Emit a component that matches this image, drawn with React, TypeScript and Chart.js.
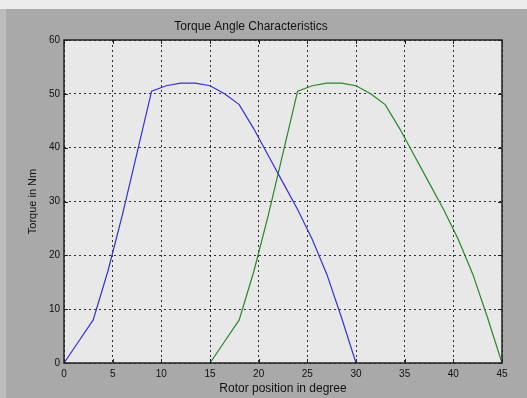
import React, { useEffect, useRef } from "react";
import { Chart, registerables } from "chart.js";

Chart.register(...registerables);

const rotorAngle: number[] = [0, 1.5, 3, 4.5, 6, 7.5, 9, 10.5, 12, 13.5, 15, 16.5, 18, 19.5, 21, 22.5, 24, 25.5, 27, 28.5, 30];
const phaseA: number[] = [0, 4, 8, 17, 27.5, 39, 50.5, 51.5, 52, 52, 51.5, 50, 48, 43.5, 38.5, 33.5, 28.5, 23, 16.5, 8.5, 0];
const phaseBAngle: number[] = [15, 16.5, 18, 19.5, 21, 22.5, 24, 25.5, 27, 28.5, 30, 31.5, 33, 34.5, 36, 37.5, 39, 40.5, 42, 43.5, 45];
const phaseB: number[] = [0, 4, 8, 17, 27.5, 39, 50.5, 51.5, 52, 52, 51.5, 50, 48, 43.5, 38.5, 33.5, 28.5, 23, 16.5, 8.5, 0];
const xTicks: number[] = [0, 5, 10, 15, 20, 25, 30, 35, 40, 45];
const yTicks: number[] = [0, 10, 20, 30, 40, 50, 60];

const FONT = "'Liberation Sans', Arial, sans-serif";

const framePlugin = {
  id: "frame",
  beforeDraw(chart: any) {
    const { ctx, chartArea } = chart;
    ctx.save();
    ctx.fillStyle = "#e8e8e8";
    ctx.fillRect(chartArea.left, chartArea.top, chartArea.right - chartArea.left, chartArea.bottom - chartArea.top);
    ctx.restore();
  },
  afterDraw(chart: any) {
    const { ctx, chartArea, scales } = chart;
    const { left, right, top, bottom } = chartArea;
    ctx.save();
    ctx.strokeStyle = "#222";
    ctx.lineWidth = 1;
    ctx.beginPath();
    const t = 4;
    for (const v of xTicks) {
      const px = Math.round(scales.x.getPixelForValue(v)) + 0.5;
      ctx.moveTo(px, bottom);
      ctx.lineTo(px, bottom - t);
      ctx.moveTo(px, top);
      ctx.lineTo(px, top + t);
    }
    for (const v of yTicks) {
      const py = Math.round(scales.y.getPixelForValue(v)) + 0.5;
      ctx.moveTo(left, py);
      ctx.lineTo(left + t, py);
      ctx.moveTo(right, py);
      ctx.lineTo(right - t, py);
    }
    ctx.stroke();
    ctx.lineWidth = 1.5;
    ctx.strokeRect(left, top, right - left, bottom - top);
    ctx.restore();
  },
};

export default function App() {
  const ref = useRef<HTMLCanvasElement>(null);
  useEffect(() => {
    document.body.style.margin = "0";
    const chart = new Chart(ref.current!, {
      type: "line",
      data: {
        datasets: [
          {
            label: "Phase A",
            data: rotorAngle.map((x, i) => ({ x, y: phaseA[i] })),
            borderColor: "rgb(50,50,215)",
            borderWidth: 1.2,
            pointRadius: 0,
            tension: 0,
          },
          {
            label: "Phase B",
            data: phaseBAngle.map((x, i) => ({ x, y: phaseB[i] })),
            borderColor: "rgb(40,135,40)",
            borderWidth: 1.2,
            pointRadius: 0,
            tension: 0,
          },
        ],
      },
      options: {
        animation: false,
        responsive: false,
        maintainAspectRatio: false,
        layout: { padding: { left: 0, right: 25, top: 0, bottom: 0 } },
        plugins: {
          legend: { display: false },
          tooltip: { enabled: false },
          title: {
            display: true,
            text: "Torque Angle Characteristics",
            color: "#111",
            font: { family: FONT, size: 12, weight: "normal", lineHeight: 1.2 },
            padding: { top: 19, bottom: 6.6 },
          },
        },
        scales: {
          x: {
            type: "linear",
            min: 0,
            max: 45,
            afterBuildTicks: (s: any) => {
              s.ticks = xTicks.map((v) => ({ value: v }));
            },
            afterFit: (s: any) => {
              s.height = 35;
            },
            ticks: {
              color: "#111",
              font: { family: FONT, size: 10 },
              padding: 5,
              maxRotation: 0,
              autoSkip: false,
            },
            grid: {
              color: "rgba(0,0,0,0.8)",
              lineWidth: 1,
              drawTicks: false,
            },
            border: { display: false, dash: [2, 3] },
            title: {
              display: true,
              text: "Rotor position in degree",
              color: "#111",
              font: { family: FONT, size: 12, lineHeight: 1.2 },
              padding: { top: 0, bottom: 2.3 },
            },
          },
          y: {
            type: "linear",
            min: 0,
            max: 60,
            afterBuildTicks: (s: any) => {
              s.ticks = yTicks.map((v) => ({ value: v }));
            },
            afterFit: (s: any) => {
              s.width = 64;
            },
            ticks: {
              color: "#111",
              font: { family: FONT, size: 10 },
              padding: 4,
              autoSkip: false,
            },
            grid: {
              color: "rgba(0,0,0,0.8)",
              lineWidth: 1,
              drawTicks: false,
            },
            border: { display: false, dash: [2, 3] },
            title: {
              display: true,
              text: "Torque in Nm",
              color: "#111",
              font: { family: FONT, size: 11, lineHeight: 1.2 },
              padding: { top: 26.4, bottom: 0 },
            },
          },
        },
      },
      plugins: [framePlugin],
    });
    return () => chart.destroy();
  }, []);

  return (
    <div
      style={{
        position: "fixed",
        left: 0,
        top: 0,
        width: 527,
        height: 398,
        background:
          "linear-gradient(to bottom, #ececec 0px, #ececec 9px, transparent 9px), linear-gradient(to right, #bdbdbd 0px, #bdbdbd 6px, #a9a9a9 6px)",
      }}
    >
      <canvas ref={ref} width={527} height={398} style={{ display: "block" }} />
    </div>
  );
}
